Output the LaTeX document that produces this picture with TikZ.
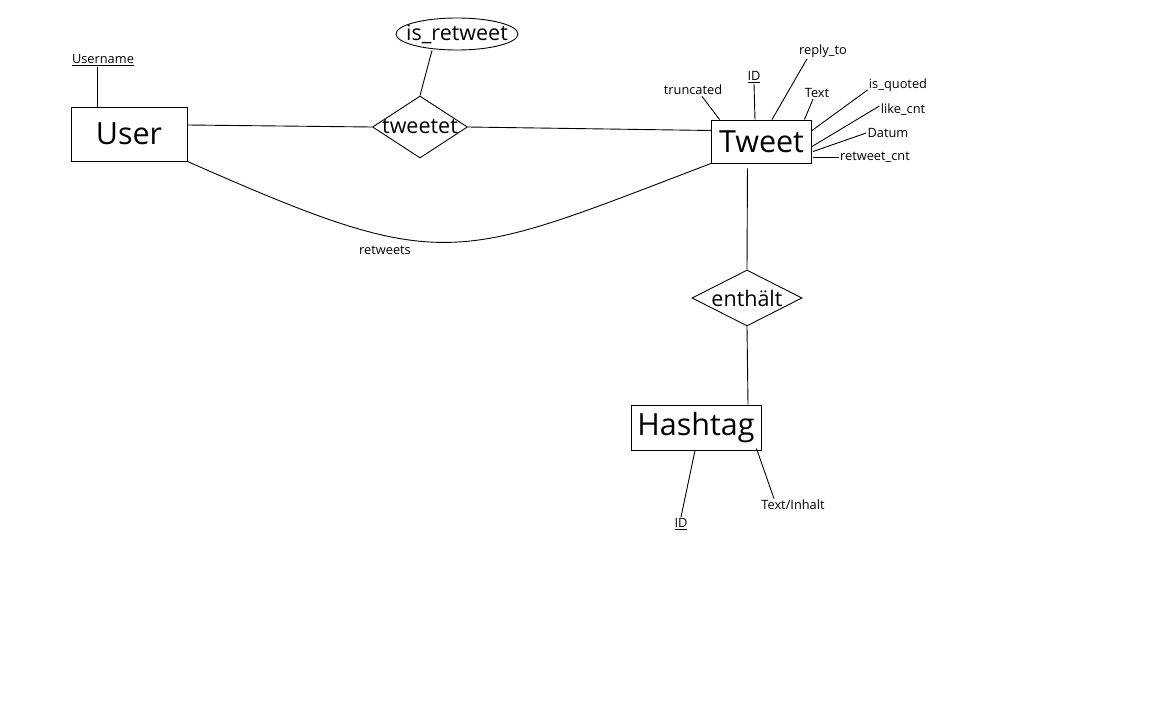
\documentclass[tikz,border=0pt]{standalone}
\usepackage{fontspec}
\setmainfont{Open Sans}
\usepackage{tikz}
\usetikzlibrary{shapes.geometric,calc}
\tikzset{
  ent/.style={draw, rectangle, inner sep=0pt, font=\fontsize{30.5}{36}\selectfont},
  rel/.style={draw, diamond, inner sep=0pt},
  rtxt/.style={font=\fontsize{21.5}{26}\selectfont, inner sep=0pt},
  att/.style={font=\fontsize{12.8}{15}\selectfont, inner sep=1pt},
  ln/.style={line width=0.9pt},
}
\begin{document}
\begin{tikzpicture}[x=1pt, y=-1pt, ln]
\useasboundingbox (0,0) rectangle (1152,720);
\node[ent, minimum width=116, minimum height=54] (user) at (129,134) {User};
\node[ent, minimum width=100, minimum height=43] (tweet) at (761.5,141.5) {Tweet};
\node[ent, minimum width=130, minimum height=45] (hashtag) at (696,427.5) {Hashtag};
\node[rel, minimum width=95, minimum height=62, label={[rtxt]center:tweetet}] (tweetet) at (420,127) {};
\node[rel, minimum width=110, minimum height=56, label={[rtxt]center:enth\"alt}] (enthaelt) at (747,298) {};
\node[draw, ellipse, inner sep=0pt, minimum width=122, minimum height=32, label={[rtxt]center:is\_retweet}] (isretweet) at (457,34) {};
\node[att] (username) at (103,60) {\underline{Username}};
\node[att] (retweets) at (385,250) {retweets};
\node[att] (trunc) at (693,90) {truncated};
\node[att] (tid) at (754,77) {\underline{ID}};
\node[att] (reply) at (823,51) {reply\_to};
\node[att] (txt) at (817,93) {Text};
\node[att] (quoted) at (898,85) {is\_quoted};
\node[att] (like) at (903,110) {like\_cnt};
\node[att] (datum) at (888,133) {Datum};
\node[att] (rtc) at (875,157) {retweet\_cnt};
\node[att] (hid) at (681,524) {\underline{ID}};
\node[att] (tinh) at (793,505) {Text/Inhalt};
\draw ([xshift=-6pt]username.south) -- ([xshift=-32pt]user.north);
\draw ([yshift=9pt]user.east) -- (tweetet.west); \draw (tweetet.east) -- ([yshift=11pt]tweet.west);
\draw ([xshift=-25pt]isretweet.south) -- (tweetet.north);
\draw (user.south east) .. controls (447,276) and (452,262) .. (tweet.south west);
\draw ([xshift=9pt]trunc.south) -- ([xshift=8.5pt]tweet.north west);
\draw (tid.south) -- ([xshift=-6.5pt]tweet.north);
\draw ([xshift=-16pt]reply.south) -- ([xshift=10.5pt]tweet.north);
\draw ([xshift=-4pt]txt.south) -- ([xshift=-7.5pt]tweet.north east);
\draw ([yshift=-5pt]quoted.west) -- ([yshift=-11pt]tweet.north east);
\draw ([yshift=4pt]like.west) -- ([yshift=-27pt]tweet.north east);
\draw (datum.west) -- ([xshift=1pt,yshift=-32pt]tweet.north east);
\draw[shorten >=1.5pt] (rtc.west) -- (rtc.west -| tweet.east);
\draw[shorten <=5pt] ([xshift=-14pt]tweet.south) -- (enthaelt.north);
\draw (enthaelt.south) -- ([xshift=52pt]hashtag.north);
\draw (hid.north) -- ([xshift=-1pt]hashtag.south);
\draw ([xshift=-19pt]tinh.north) -- ([xshift=-5pt,yshift=2pt]hashtag.south east);
\end{tikzpicture}
\end{document}
